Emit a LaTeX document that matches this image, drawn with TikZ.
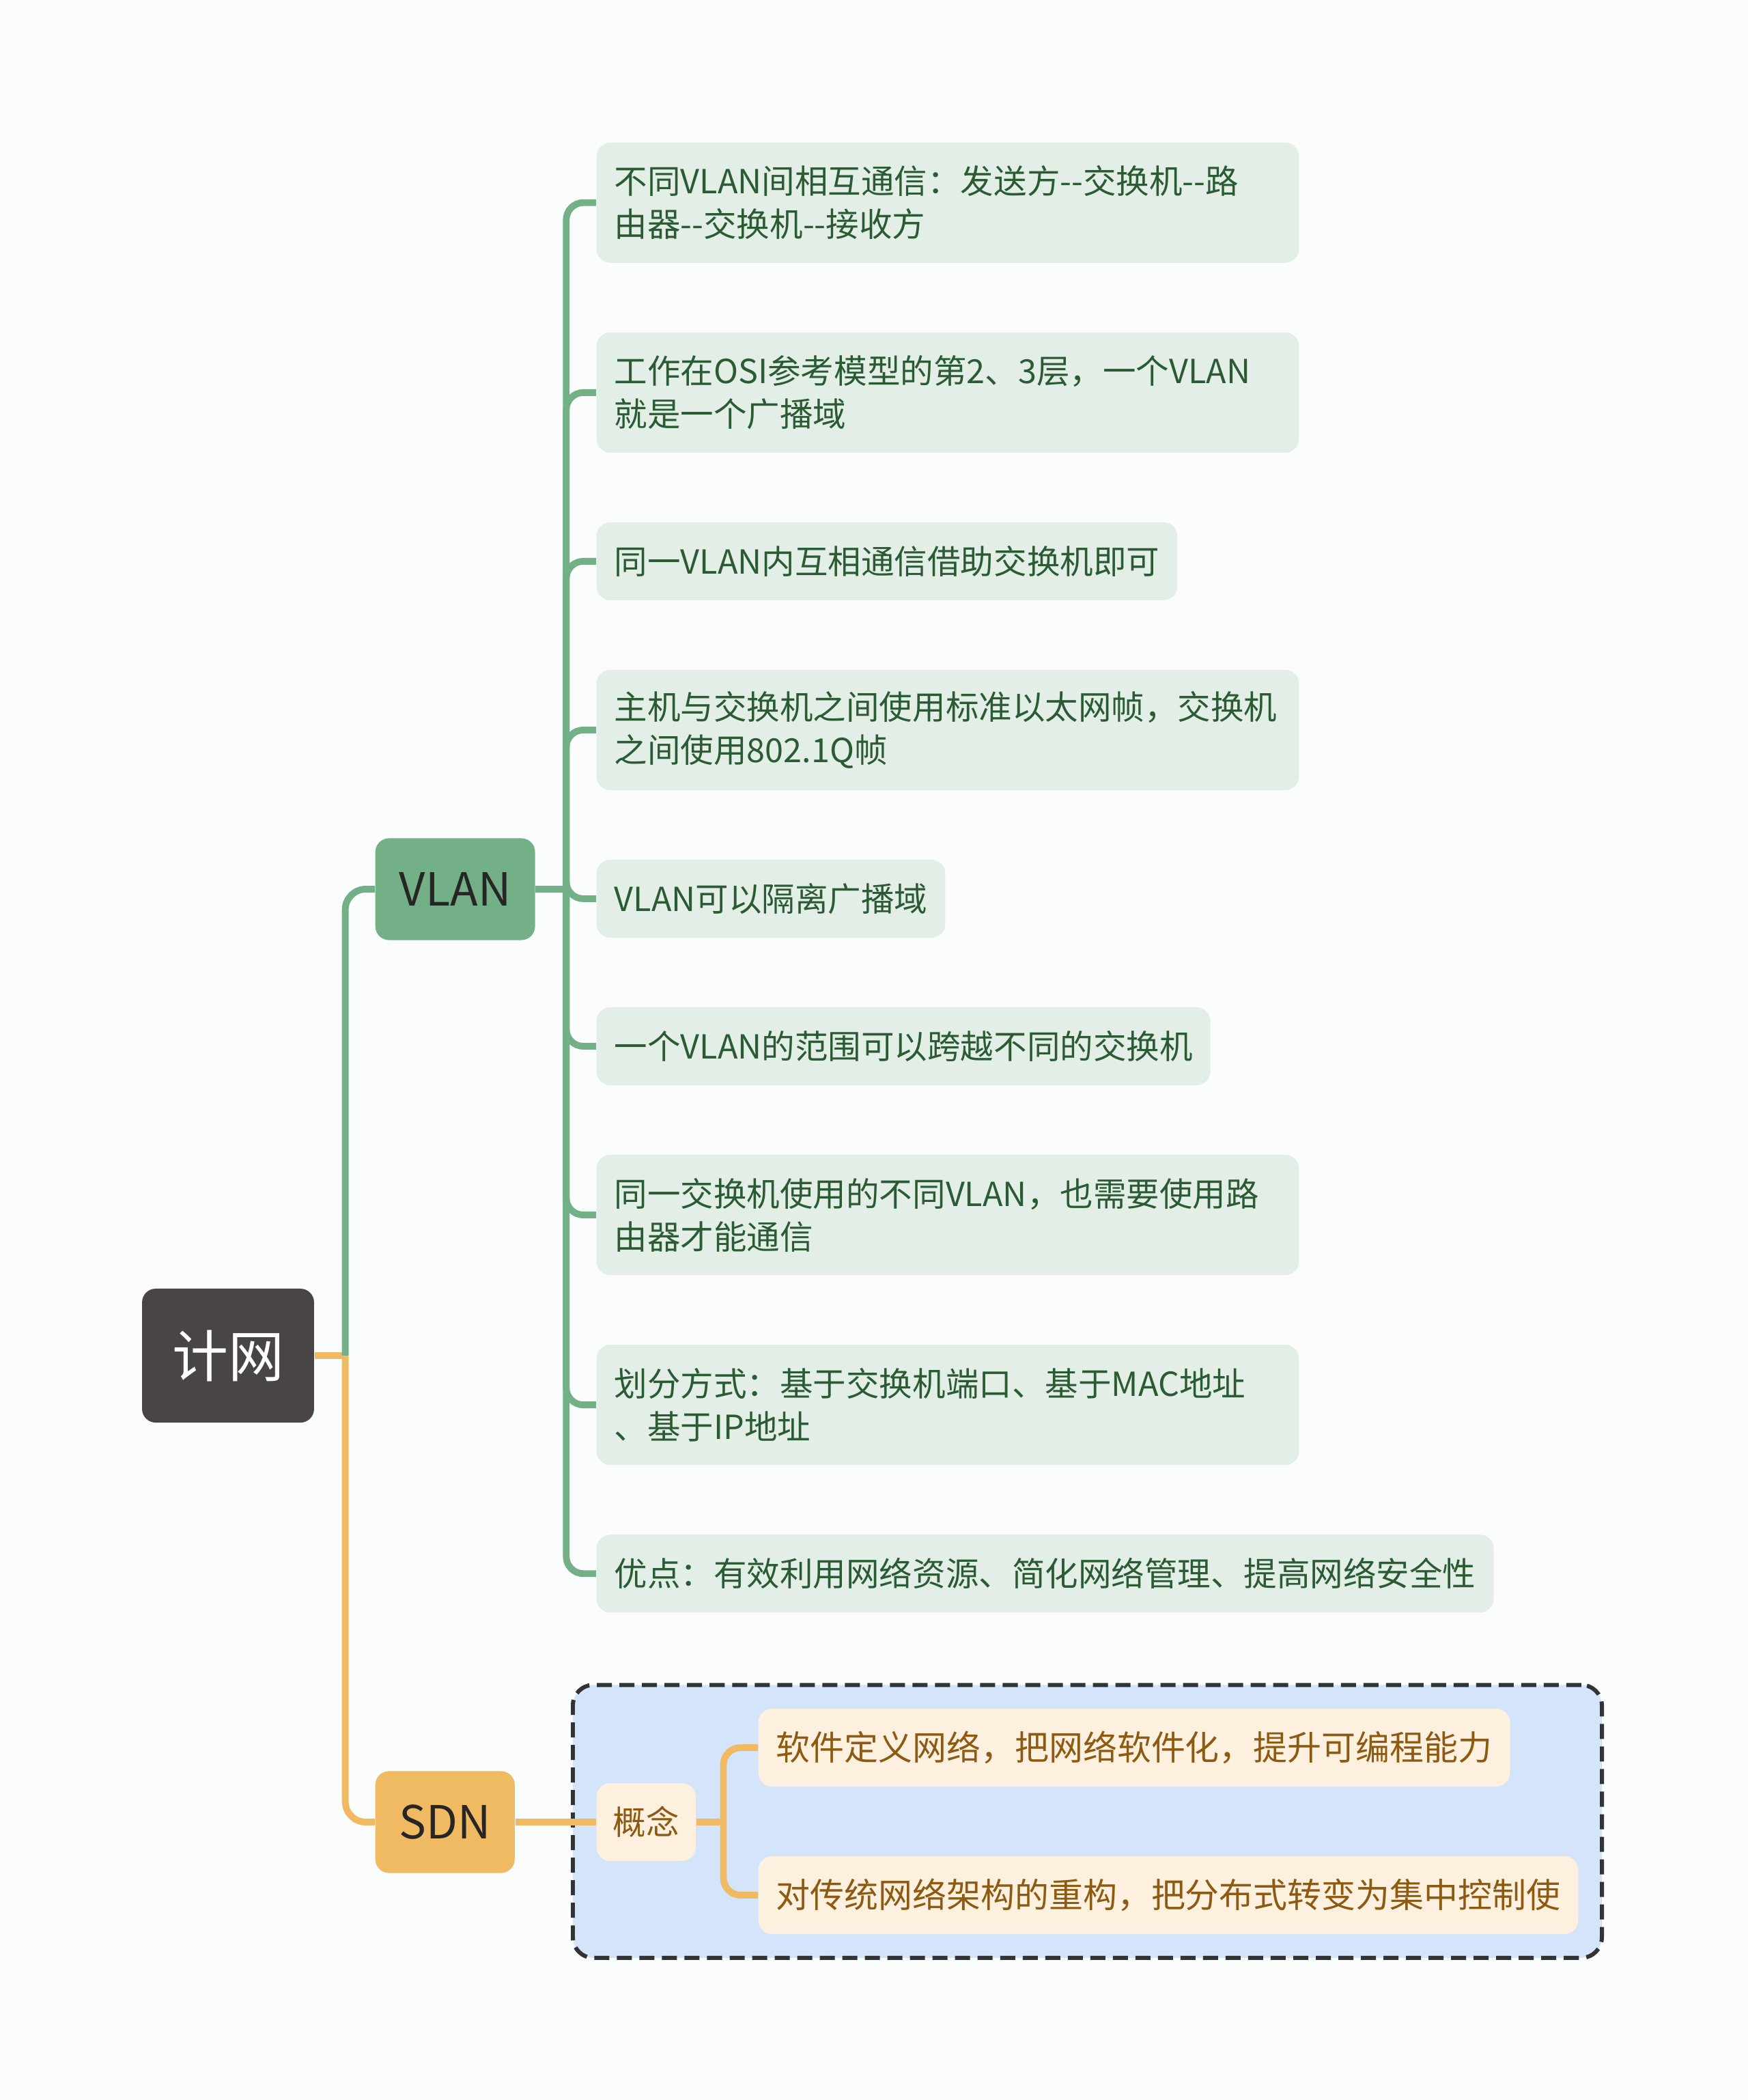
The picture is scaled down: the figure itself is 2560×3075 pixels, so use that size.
\documentclass[tikz,border=0pt]{standalone}
\usepackage{fontspec}
\setmainfont{Noto Sans CJK SC}
\usetikzlibrary{positioning,fit,backgrounds}

\definecolor{pagebg}{HTML}{FBFDFD}
\definecolor{rootfill}{HTML}{4A4545}
\definecolor{vlangreen}{HTML}{73B088}
\definecolor{leafgreen}{HTML}{E3EFE6}
\definecolor{leaftext}{HTML}{2B5B35}
\definecolor{sdnorange}{HTML}{F0BA62}
\definecolor{framefill}{HTML}{D3E4FB}
\definecolor{cream}{HTML}{FDF0DF}
\definecolor{browntext}{HTML}{8D5A12}

\begin{document}
\begin{tikzpicture}[
                  x=0.01cm, y=-0.01cm,
                  rootnode/.style={rectangle, fill=rootfill, text=white, rounded corners=0.2cm, inner xsep=0.44cm, minimum height=1.96cm, font=\fontsize{23.3pt}{28pt}\selectfont},
                  mainnode/.style={rectangle, rounded corners=0.2cm, inner xsep=0.35cm, minimum height=1.49cm, text=black!85, font=\fontsize{19pt}{23pt}\selectfont},
                  leafbox/.style={rectangle, fill=leafgreen, text=leaftext, rounded corners=0.2cm, inner xsep=0.26cm, minimum height=1.14cm, align=left, font=\fontsize{13.8pt}{17.9pt}\selectfont},
                  leaftwo/.style={leafbox, text width=9.76cm, minimum height=1.76cm},
                  sdnleaf/.style={leafbox, fill=cream, text=browntext, font=\fontsize{14.2pt}{17.9pt}\selectfont},
                  vline/.style={draw=vlangreen, line width=2.8pt},
                  sline/.style={draw=sdnorange, line width=2.8pt},
                  sdnframe/.style={draw=black!80, fill=framefill, line width=1.7pt, dash pattern=on 0.22cm off 0.11cm, rounded corners=0.3cm, inner sep=0.34cm}
            ]
            \useasboundingbox (0,0) rectangle (2560,3075);

            % Nodes
            \node [rootnode] (root) at (334,1985) {计网};
            \node [mainnode, fill=vlangreen, anchor=west] (vlan) at (549,1302) {VLAN};
            \node [mainnode, fill=sdnorange, anchor=west] (sdn) at (549,2668) {SDN};

            \node [leaftwo, anchor=north west] (l1) at (873,208) {不同VLAN间相互通信：发送方-{}-交换机-{}-路\\由器-{}-交换机-{}-接收方};
            \node [leaftwo, below right=1.005cm and 0cm of l1.south west] (l2) {工作在OSI参考模型的第2、3层，一个VLAN\\就是一个广播域};
            \node [leafbox, below right=1.005cm and 0cm of l2.south west] (l3) {同一VLAN内互相通信借助交换机即可};
            \node [leaftwo, below right=1.005cm and 0cm of l3.south west] (l4) {主机与交换机之间使用标准以太网帧，交换机\\之间使用802.1Q帧};
            \node [leafbox, below right=1.005cm and 0cm of l4.south west] (l5) {VLAN可以隔离广播域};
            \node [leafbox, below right=1.005cm and 0cm of l5.south west] (l6) {一个VLAN的范围可以跨越不同的交换机};
            \node [leaftwo, below right=1.005cm and 0cm of l6.south west] (l7) {同一交换机使用的不同VLAN，也需要使用路\\由器才能通信};
            \node [leaftwo, below right=1.005cm and 0cm of l7.south west] (l8) {划分方式：基于交换机端口、基于MAC地址\\、基于IP地址};
            \node [leafbox, below right=1.005cm and 0cm of l8.south west] (l9) {优点：有效利用网络资源、简化网络管理、提高网络安全性};

            \node [sdnleaf, anchor=west, inner xsep=0.24cm, font=\fontsize{13.8pt}{17.9pt}\selectfont] (concept) at (873,2668) {概念};
            \node [sdnleaf, anchor=west] (s1) at (1110,2559) {软件定义网络，把网络软件化，提升可编程能力};
            \node [sdnleaf, anchor=west] (s2) at (1110,2775) {对传统网络架构的重构，把分布式转变为集中控制使};

            \begin{scope}[on background layer]
              \fill [pagebg] (0,0) rectangle (2560,3075);
              \node [sdnframe, fit=(concept)(s1)(s2)] (frame) {};
            \end{scope}

            % Edges
            \path (root.east) ++(45,0) coordinate (rj);
            \path (vlan.east) ++(45,0) coordinate (vj);
            \path (concept.east) ++(40,0) coordinate (cj);

            \path [sline] (root.east) -- (rj);
            \path [vline, rounded corners=0.3cm] (rj) |- (vlan.west);
            \path [sline, rounded corners=0.3cm] (rj) |- (sdn.west);
            \path [vline] (vlan.east) -- (vj);
            \foreach \leaf in {l1,l2,l3,l4,l5,l6,l7,l8,l9}
              \path [vline, rounded corners=0.25cm] (vj) |- (\leaf.west);
            \path [sline] (sdn.east) -- (concept.west);
            \path [sline] (concept.east) -- (cj);
            \foreach \leaf in {s1,s2}
              \path [sline, rounded corners=0.25cm] (cj) |- (\leaf.west);
      \end{tikzpicture}
\end{document}
